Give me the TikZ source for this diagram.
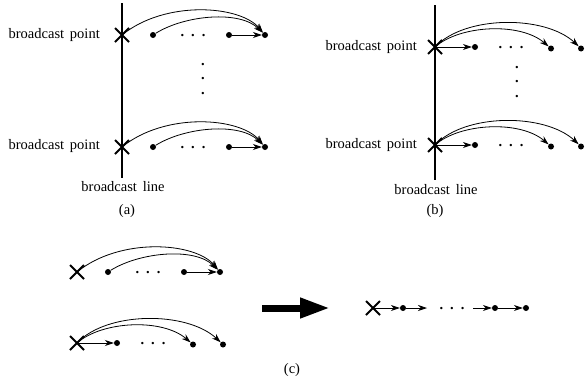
\documentclass[tikz,border=0pt]{standalone}
\usepackage{fontspec}
\setmainfont{Liberation Serif}
\usetikzlibrary{arrows.meta,shapes.misc}
\tikzset{
  lbl/.style={font=\fontsize{14.5}{17}\selectfont, inner sep=0},
  ell/.style={font=\fontsize{14.5}{17}\selectfont\bfseries, inner sep=0, anchor=base},
  vdt/.style={font=\fontsize{14.5}{14.5}\selectfont\bfseries, inner sep=0, align=center},
  dotn/.style={circle, fill, inner sep=0, minimum size=6pt},
  xmark/.style={cross out, draw, line width=2pt, minimum size=12pt, inner sep=0},
  arr/.style={-{Stealth[length=9pt,width=6pt]}, line width=0.8pt},
  bline/.style={line width=2.5pt},
  bigarr/.style={line width=7pt, -{Triangle[length=30pt,width=19pt]}}
}
\newcommand\rowA[3]{%
  \begin{scope}[shift={(#2,#3)}, name prefix=#1-]
    \node[xmark] (X) at (0,0) {};
    \node[dotn] (d1) at (31,0) {};
    \node[dotn] (d2) at (107,0) {};
    \node[dotn] (d3) at (143,0) {};
    \node[ell] (el) at (71,1.5) {.\hspace{7pt}.\hspace{7pt}.};
    \draw[arr] (d2) -- (d3);
    \draw[arr] (X.center) .. controls (43,-35) and (118,-30) .. (d3);
    \draw[arr] (d1) .. controls (63,-20) and (118,-25) .. (d3);
  \end{scope}}
\newcommand\rowB[3]{%
  \begin{scope}[shift={(#2,#3)}, name prefix=#1-]
    \node[xmark] (X) at (0,0) {};
    \node[dotn] (d1) at (40,0) {};
    \node[dotn] (d2) at (116,1.5) {};
    \node[dotn] (d3) at (146,1.5) {};
    \node[ell] (el) at (76,1.5) {.\hspace{7pt}.\hspace{7pt}.};
    \draw[arr] (X.center) -- (d1);
    \draw[arr] (X.center) .. controls (25,-22) and (85,-25) .. (d2);
    \draw[arr] (X.center) .. controls (30,-32) and (110,-32) .. (d3);
  \end{scope}}
\begin{document}
\begin{tikzpicture}[x=1pt,y=-1pt]
\useasboundingbox (0,0) rectangle (585,386);
% panel (a)
\coordinate (aT) at (122,3);
\coordinate (aB) at (122,178);
\draw[bline] (aT) -- (aB);
\rowA{at}{122}{35}
\rowA{ab}{122}{147}
\node[vdt] (avd) at (203,79) {.\\.\\.};
\node[lbl, anchor=east] (apt) at (100,35) {broadcast\hspace{0.4em}point};
\node[lbl, anchor=east] (apb) at (100,146) {broadcast\hspace{0.4em}point};
\node[lbl] (aln) at (123,187) {broadcast\hspace{0.4em}line};
\node[lbl] (acap) at (127,211) {(a)};
% panel (b)
\coordinate (bT) at (435,5);
\coordinate (bB) at (435,180);
\draw[bline] (bT) -- (bB);
\rowB{bt}{435}{47}
\rowB{bb}{435}{145}
\node[vdt] (bvd) at (517,82) {.\\.\\.};
\node[lbl, anchor=east] (bpt) at (417,47) {broadcast\hspace{0.4em}point};
\node[lbl, anchor=east] (bpb) at (417,145) {broadcast\hspace{0.4em}point};
\node[lbl] (bln) at (436,190) {broadcast\hspace{0.4em}line};
\node[lbl] (bcap) at (435,211) {(b)};
% panel (c)
\rowA{ct}{77}{272}
\rowB{cb}{77}{343}
\coordinate (ba1) at (262,308);
\coordinate (ba2) at (330,308);
\draw[bigarr] (ba1) -- (ba2);
\node[xmark] (cX) at (373,308) {};
\node[dotn] (e1) at (403,308) {};
\coordinate (f1) at (427,308);
\node[ell] (cel) at (452,309.5) {.\hspace{7pt}.\hspace{7pt}.};
\coordinate (f2) at (473,308);
\node[dotn] (e2) at (495,308) {};
\node[dotn] (e3) at (526,308) {};
\draw[arr] (cX.center) -- (e1);
\draw[arr] (e1) -- (f1);
\draw[arr] (f2) -- (e2);
\draw[arr] (e2) -- (e3);
\node[lbl] (ccap) at (292,370) {(c)};
\end{tikzpicture}
\end{document}
